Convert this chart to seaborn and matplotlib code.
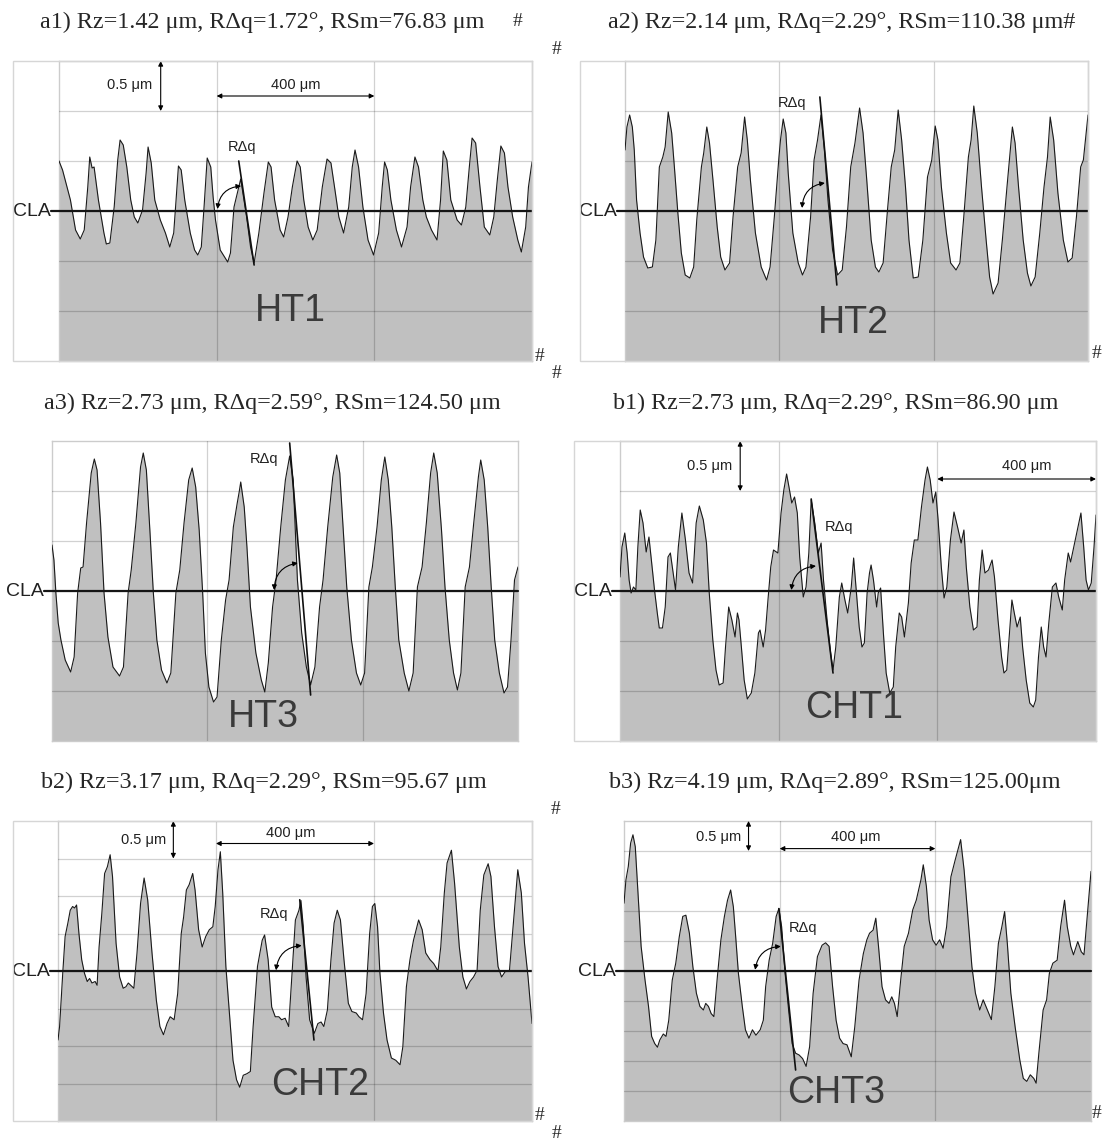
import matplotlib
matplotlib.use("Agg")
import matplotlib.pyplot as plt
import seaborn as sns
import pandas as pd
from matplotlib.patches import Rectangle
from matplotlib.transforms import blended_transform_factory

sns.set_style("white")
plt.rcParams['font.family'] = ['Liberation Sans', 'DejaVu Sans']

# Roughness profiles: (position along trace [µm], height relative to CLA [µm])
HT1 = [(0,0.50),(9,0.41),(29,0.11),(42,-0.19),(54,-0.28),(64,-0.19),(73,0.24),(78,0.54),(84,0.43),(89,0.44),
       (100,0.11),(114,-0.22),(120,-0.33),(129,-0.32),(140,0.04),(149,0.51),(155,0.71),(163,0.66),(172,0.44),
       (182,0.11),(191,-0.06),(200,-0.12),(212,0.01),(221,0.38),(226,0.64),(234,0.48),(243,0.11),(257,-0.09),
       (270,-0.22),(281,-0.36),(291,-0.22),(297,0.11),(303,0.45),(310,0.41),(319,0.11),(333,-0.22),(344,-0.39),
       (352,-0.44),(361,-0.36),(368,0.04),(376,0.53),(385,0.44),(391,0.14),(397,-0.09),(409,-0.39),(428,-0.51),
       (435,-0.42),(444,0.04),(461,0.32),(476,-0.06),(486,-0.36),(495,-0.52),(507,-0.22),(520,0.18),(531,0.49),
       (538,0.44),(547,0.11),(561,-0.19),(570,-0.26),(581,-0.06),(592,0.24),(604,0.50),(612,0.44),(621,0.11),
       (632,-0.16),(644,-0.29),(655,-0.19),(668,0.24),(680,0.52),(690,0.48),(699,0.24),(710,-0.06),(722,-0.22),
       (735,0.04),(744,0.44),(751,0.61),(760,0.44),(771,0.04),(784,-0.29),(798,-0.44),(811,-0.22),(820,0.24),
       (826,0.49),(833,0.41),(842,0.11),(856,-0.19),(869,-0.36),(883,-0.16),(892,0.24),(903,0.54),(912,0.44),
       (923,0.11),(932,-0.06),(945,-0.19),(959,-0.29),(968,0.11),(975,0.60),(984,0.51),(994,0.11),(1010,-0.09),
       (1021,-0.14),(1032,0.04),(1041,0.44),(1048,0.73),(1057,0.68),(1068,0.24),(1079,-0.16),(1093,-0.24),
       (1103,-0.06),(1112,0.31),(1121,0.65),(1130,0.58),(1139,0.24),(1151,-0.06),(1164,-0.29),(1173,-0.41),
       (1184,-0.16),(1191,0.24),(1200,0.49)]

HT2 = [(0,0.61),(5,0.84),(12,0.96),(19,0.84),(24,0.61),(30,0.11),(39,-0.22),(48,-0.46),(59,-0.57),(71,-0.56),
       (80,-0.29),(89,0.44),(98,0.54),(104,0.64),(112,0.99),(121,0.78),(128,0.44),(137,-0.02),(146,-0.42),
       (156,-0.64),(168,-0.67),(178,-0.56),(186,-0.09),(198,0.44),(204,0.58),(212,0.84),(219,0.68),(228,0.31),
       (239,-0.16),(248,-0.46),(259,-0.59),(271,-0.52),(280,-0.06),(292,0.44),(301,0.58),(310,0.94),(317,0.71),
       (325,0.31),(338,-0.22),(353,-0.56),(367,-0.69),(376,-0.56),(387,-0.06),(399,0.54),(403,0.71),(410,0.92),
       (417,0.78),(423,0.38),(435,-0.22),(449,-0.52),(460,-0.64),(469,-0.56),(481,-0.06),(490,0.51),(499,0.71),
       (508,0.96),(517,0.61),(526,0.11),(538,-0.39),(551,-0.64),(563,-0.59),(574,-0.16),(585,0.44),(596,0.68),
       (608,1.03),(617,0.78),(626,0.34),(638,-0.29),(649,-0.56),(658,-0.61),(669,-0.52),(681,0.04),(690,0.44),
       (699,0.61),(708,1.01),(717,0.71),(727,0.24),(736,-0.29),(747,-0.67),(760,-0.66),(772,-0.29),(784,0.34),
       (795,0.51),(804,0.85),(811,0.71),(820,0.24),(833,-0.22),(844,-0.52),(858,-0.59),(868,-0.52),(878,-0.06),
       (890,0.54),(897,0.71),(904,1.05),(913,0.78),(924,0.24),(936,-0.29),(945,-0.66),(954,-0.83),(967,-0.72),
       (978,-0.29),(990,0.24),(997,0.54),(1004,0.84),(1011,0.68),(1020,0.24),(1032,-0.29),(1043,-0.62),
       (1052,-0.75),(1063,-0.66),(1075,-0.22),(1086,0.24),(1095,0.54),(1102,0.94),(1111,0.71),(1122,0.18),
       (1136,-0.29),(1148,-0.51),(1159,-0.47),(1170,-0.06),(1181,0.44),(1188,0.51),(1200,0.96)]

HT3 = [(0,0.46),(5,0.31),(10,-0.02),(16,-0.32),(23,-0.49),(34,-0.69),(48,-0.81),(57,-0.66),(66,-0.02),(74,0.23),
       (80,0.24),(89,0.68),(101,1.18),(109,1.32),(116,1.21),(125,0.68),(134,-0.02),(144,-0.46),(157,-0.76),
       (174,-0.85),(184,-0.76),(196,-0.02),(204,0.21),(216,0.68),(228,1.24),(235,1.38),(243,1.21),(252,0.61),
       (261,-0.02),(270,-0.49),(282,-0.79),(296,-0.92),(306,-0.82),(319,-0.02),(329,0.21),(340,0.68),(352,1.11),
       (361,1.23),(370,1.04),(379,0.61),(388,-0.02),(395,-0.62),(404,-0.96),(416,-1.11),(425,-1.06),(436,-0.49),
       (447,-0.09),(456,0.11),(467,0.64),(477,0.88),(482,0.99),(486,1.09),(495,0.84),(502,0.44),(511,-0.16),
       (525,-0.62),(539,-0.89),(548,-1.01),(557,-0.72),(568,-0.16),(577,0.11),(589,0.64),(601,1.11),(612,1.35),
       (621,1.11),(632,0.11),(643,-0.42),(655,-0.76),(666,-0.94),(677,-0.76),(689,-0.16),(698,0.11),(710,0.64),
       (723,1.14),(733,1.36),(741,1.18),(750,0.61),(759,0.04),(771,-0.49),(784,-0.82),(795,-0.94),(805,-0.82),
       (816,0.04),(825,0.24),(837,0.64),(848,1.11),(857,1.34),(866,1.11),(875,0.64),(884,0.04),(893,-0.49),
       (907,-0.82),(919,-1.00),(930,-0.82),(941,0.04),(953,0.24),(964,0.68),(975,1.18),(983,1.38),(992,1.18),
       (1003,0.61),(1012,0.04),(1023,-0.49),(1034,-0.82),(1044,-0.99),(1053,-0.82),(1064,0.04),(1075,0.24),
       (1086,0.68),(1098,1.14),(1104,1.31),(1113,1.11),(1122,0.64),(1131,0.04),(1140,-0.49),(1152,-0.82),
       (1164,-1.02),(1173,-0.96),(1182,-0.49),(1191,0.11),(1200,0.24)]

CHT1 = [(0,0.14),(5,0.44),(12,0.58),(18,0.38),(23,0.11),(28,-0.02),(34,0.04),(40,0.01),(45,0.44),(51,0.81),
        (58,0.68),(66,0.39),(73,0.54),(80,0.28),(87,0.01),(94,-0.22),(99,-0.37),(107,-0.37),(114,-0.16),
        (121,0.34),(127,0.38),(134,0.18),(140,0.01),(147,0.44),(156,0.78),(165,0.51),(174,0.18),(183,0.08),
        (192,0.68),(200,0.85),(210,0.71),(218,0.48),(225,-0.02),(234,-0.49),(242,-0.79),(250,-0.94),(260,-0.92),
        (266,-0.56),(274,-0.16),(282,-0.29),(290,-0.46),(296,-0.22),(300,-0.29),(306,-0.56),(313,-0.89),
        (321,-1.08),(331,-1.02),(340,-0.82),(349,-0.42),(353,-0.39),(361,-0.56),(367,-0.39),(373,-0.09),
        (380,0.24),(387,0.41),(398,0.38),(406,0.78),(413,1.01),(420,1.17),(426,1.04),(433,0.88),(440,0.94),
        (447,0.78),(453,0.34),(462,-0.06),(469,0.04),(476,0.38),(482,0.91),(491,0.68),(500,0.38),(507,0.48),
        (513,0.11),(522,-0.29),(531,-0.62),(537,-0.79),(544,-0.56),(553,-0.06),(559,0.08),(567,-0.09),
        (574,-0.22),(583,0.04),(589,0.33),(595,0.04),(603,-0.36),(610,-0.56),(616,-0.52),(623,-0.02),(629,0.18),
        (633,0.26),(639,0.11),(647,-0.16),(651,-0.02),(657,0.03),(664,-0.42),(671,-0.82),(680,-1.02),(689,-0.96),
        (695,-0.56),(704,-0.22),(710,-0.26),(717,-0.46),(727,-0.12),(734,0.28),(742,0.51),(751,0.51),(760,0.84),
        (769,1.11),(775,1.24),(782,1.11),(789,0.88),(796,0.99),(802,0.71),(810,0.24),(817,-0.07),(824,0.04),
        (833,0.51),(842,0.79),(851,0.64),(860,0.48),(867,0.61),(873,0.24),(882,-0.16),(891,-0.39),(900,-0.36),
        (906,0.11),(913,0.41),(920,0.18),(929,0.21),(938,0.31),(944,0.14),(953,-0.29),(962,-0.66),(968,-0.82),
        (975,-0.79),(982,-0.42),(988,-0.09),(994,-0.22),(1001,-0.36),(1009,-0.26),(1015,-0.56),(1024,-0.89),
        (1033,-1.12),(1042,-1.16),(1048,-1.09),(1055,-0.66),(1062,-0.36),(1068,-0.56),(1074,-0.66),(1081,-0.32),
        (1090,0.04),(1099,0.08),(1106,-0.06),(1115,-0.19),(1121,0.11),(1130,0.38),(1136,0.29),(1144,0.44),
        (1153,0.61),(1162,0.78),(1169,0.44),(1175,0.11),(1181,0.01),(1188,0.08),(1195,0.44),(1200,0.76)]

CHT2 = [(0,-0.92),(4,-0.74),(12,-0.03),(18,0.46),(25,0.64),(31,0.81),(37,0.86),(42,0.84),(47,0.88),(53,0.50),
        (60,0.15),(67,-0.03),(74,-0.14),(80,-0.10),(86,-0.16),(94,-0.14),(99,-0.19),(104,0.32),(111,0.77),
        (118,1.30),(125,1.39),(132,1.55),(138,1.26),(147,0.37),(156,-0.08),(165,-0.23),(172,-0.21),(178,-0.16),
        (184,-0.19),(192,-0.23),(200,0.24),(209,0.90),(218,1.24),(227,0.95),(238,0.24),(249,-0.39),(258,-0.74),
        (267,-0.85),(276,-0.70),(284,-0.61),(294,-0.65),(303,-0.30),(312,0.50),(318,0.72),(325,1.08),(332,1.15),
        (341,1.30),(347,1.08),(356,0.55),(365,0.32),(374,0.46),(383,0.55),(392,0.59),(398,0.86),(405,1.35),
        (411,1.59),(417,1.04),(425,0.06),(434,-0.56),(443,-1.19),(452,-1.45),(460,-1.55),(469,-1.39),(478,-1.37),
        (487,-1.34),(494,-0.74),(505,0.06),(517,0.41),(523,0.48),(532,0.15),(541,-0.48),(550,-0.61),(559,-0.61),
        (566,-0.65),(575,-0.63),(584,-0.74),(592,-0.08),(601,0.68),(610,0.81),(615,0.94),(621,0.59),(628,-0.08),
        (637,-0.65),(649,-0.83),(658,-0.70),(666,-0.68),(673,-0.74),(682,-0.52),(691,0.15),(699,0.64),(707,0.81),
        (715,0.68),(724,0.15),(735,-0.43),(744,-0.54),(755,-0.56),(762,-0.61),(771,-0.65),(780,-0.30),(789,0.50),
        (796,0.86),(802,0.90),(809,0.59),(815,-0.03),(824,-0.56),(833,-0.92),(844,-1.16),(855,-1.19),(866,-1.25),
        (873,-1.01),(882,-0.21),(891,0.15),(900,0.41),(913,0.68),(922,0.55),(931,0.24),(942,0.15),(951,0.10),
        (962,0.00),(969,0.32),(978,1.04),(985,1.44),(996,1.61),(1004,1.17),(1016,0.32),(1025,-0.08),(1034,-0.24),
        (1043,-0.14),(1052,-0.08),(1061,0.01),(1069,0.81),(1078,1.28),(1089,1.43),(1096,1.26),(1105,0.59),
        (1114,0.06),(1123,-0.08),(1132,-0.01),(1143,0.01),(1155,0.77),(1164,1.35),(1173,1.04),(1181,0.37),
        (1190,-0.08),(1200,-0.70)]

CHT3 = [(0,1.13),(5,1.52),(11,1.74),(17,2.13),(23,2.27),(29,2.07),(35,1.41),(44,0.41),(54,-0.15),(63,-0.59),
        (71,-1.09),(79,-1.21),(86,-1.27),(92,-1.15),(101,-1.05),(108,-1.09),(115,-0.82),(124,-0.15),(133,0.13),
        (142,0.57),(151,0.91),(159,0.93),(168,0.63),(177,0.07),(186,-0.37),(195,-0.59),(204,-0.65),(210,-0.54),
        (217,-0.59),(224,-0.71),(231,-0.76),(240,-0.09),(249,0.52),(258,0.91),(266,1.18),(274,1.35),(281,1.07),
        (287,0.57),(294,-0.04),(304,-0.59),(312,-0.98),(321,-1.12),(330,-0.98),(339,-1.07),(350,-0.98),
        (358,-0.82),(364,-0.26),(373,0.18),(382,0.46),(391,0.91),(398,1.04),(405,0.74),(414,-0.04),(423,-0.65),
        (432,-1.21),(441,-1.37),(450,-1.40),(459,-1.46),(468,-1.59),(477,-1.26),(486,-0.37),(497,0.24),(509,0.43),
        (518,0.47),(527,0.41),(536,-0.26),(545,-0.82),(554,-1.12),(563,-1.21),(573,-1.23),(584,-1.43),(593,-0.93),
        (604,-0.15),(615,0.29),(624,0.52),(631,0.63),(640,0.68),(647,0.88),(654,0.41),(663,-0.26),(672,-0.48),
        (681,-0.54),(688,-0.43),(695,-0.54),(702,-0.76),(711,-0.15),(720,0.41),(731,0.63),(742,1.02),(751,1.18),
        (763,1.52),(769,1.77),(777,1.41),(784,0.85),(793,0.52),(802,0.43),(811,0.52),(820,0.38),(829,0.74),
        (840,1.57),(851,1.85),(865,2.19),(874,1.68),(883,0.96),(894,0.07),(903,-0.37),(914,-0.65),(923,-0.48),
        (930,-0.59),(944,-0.81),(953,-0.26),(962,0.46),(971,0.74),(978,0.99),(985,0.46),(994,-0.37),(1005,-0.93),
        (1017,-1.48),(1026,-1.79),(1035,-1.84),(1044,-1.73),(1053,-1.79),(1059,-1.87),(1066,-1.37),(1077,-0.65),
        (1086,-0.48),(1093,-0.04),(1102,0.13),(1113,0.18),(1122,0.74),(1132,1.18),(1139,0.74),(1148,0.41),
        (1155,0.27),(1166,0.49),(1175,0.32),(1182,0.27),(1188,0.74),(1193,1.13),(1200,1.66)]

TITLES = ["a1) Rz=1.42 μm, RΔq=1.72°, RSm=76.83 μm",
          "a2) Rz=2.14 μm, RΔq=2.29°, RSm=110.38 μm#",
          "a3) Rz=2.73 μm, RΔq=2.59°, RSm=124.50 μm",
          "b1) Rz=2.73 μm, RΔq=2.29°, RSm=86.90 μm",
          "b2) Rz=3.17 μm, RΔq=2.29°, RSm=95.67 μm",
          "b3) Rz=4.19 μm, RΔq=2.89°, RSm=125.00μm"]
SAMPLES = ["HT1", "HT2", "HT3", "CHT1", "CHT2", "CHT3"]
HALF_RANGE = [1.5, 1.5, 1.5, 1.5, 2.0, 2.5]          # µm above/below CLA
TANGENTS = [((456, 0.50), (495, -0.54)), ((505, 1.14), (549, -0.74)), ((612, 1.48), (666, -1.04)),
            ((482, 0.92), (537, -0.82)), ((612, 0.95), (648, -0.92)), ((398, 1.04), (441, -1.65))]
ARCS = [((402, 0.02), (462, 0.25)), ((459, 0.03), (518, 0.28)), ((572, 0.01), (633, 0.28)),
        ((432, 0.01), (494, 0.25)), ((552, 0.01), (617, 0.34)), ((337, 0.02), (403, 0.41))]

W, H = 1104, 1142
fig = plt.figure(figsize=(W / 100, H / 100), dpi=100)

# layout in pixels: plot box (x0, y0, x1, y1), optional outer frame left edge, title anchor
LAYOUT = [
    dict(box=(59, 61, 532, 361), frame=13, title=(40, 22)),
    dict(box=(625, 61, 1088, 361), frame=580, title=(608, 22)),
    dict(box=(52, 441, 518, 741), frame=None, title=(44, 403)),
    dict(box=(620, 441, 1096, 741), frame=574, title=(613, 403)),
    dict(box=(58, 821, 532, 1121), frame=13, title=(41, 782)),
    dict(box=(624, 821, 1091, 1121), frame=None, title=(609, 782)),
]
# annotation placement (data coords)
ANNOT = [
    dict(rdq=(465, 0.64), name=(587, -1.0), vbar=258, hbar=(400, 800, 1.15), vlab=(178, 1.26), hlab=(600, 1.26)),
    dict(rdq=(433, 1.08), name=(593, -1.12)),
    dict(rdq=(545, 1.32), name=(544, -1.26)),
    dict(rdq=(551, 0.64), name=(589, -1.17), vbar=303, hbar=(800, 1200, 1.12), vlab=(225, 1.25), hlab=(1026, 1.25)),
    dict(rdq=(548, 0.76), name=(664, -1.52), vbar=292, hbar=(400, 800, 1.70), vlab=(218, 1.75), hlab=(589, 1.84)),
    dict(rdq=(461, 0.71), name=(545, -2.04), vbar=320, hbar=(400, 800, 2.04), vlab=(242, 2.23), hlab=(595, 2.23)),
]
PROFILES = [HT1, HT2, HT3, CHT1, CHT2, CHT3]

arrow_kw = dict(arrowstyle='<|-|>', color='black', lw=0.8, mutation_scale=7, shrinkA=0, shrinkB=0)

for prof, title, name, lim, tan, arc, lay, ann in zip(PROFILES, TITLES, SAMPLES, HALF_RANGE,
                                                      TANGENTS, ARCS, LAYOUT, ANNOT):
    x0, y0, x1, y1 = lay['box']
    ax = fig.add_axes([x0 / W, 1 - y1 / H, (x1 - x0) / W, (y1 - y0) / H])
    df = pd.DataFrame(prof, columns=['x', 'z'])

    ax.fill_between(df['x'], df['z'], -lim, color='#c0c0c0', lw=0, zorder=1)
    sns.lineplot(data=df, x='x', y='z', ax=ax, color='#1a1a1a', lw=0.8, sort=False,
                 estimator=None, zorder=3)

    ax.set_xlim(0, 1200)
    ax.set_ylim(-lim, lim)
    ax.set_xticks([400, 800])
    yt = [v * 0.5 for v in range(int(-2 * lim) + 1, int(2 * lim))]
    ax.set_yticks(yt)
    ax.grid(True, color='black', alpha=0.18, lw=0.9)
    ax.set_axisbelow(False)
    ax.tick_params(length=0, labelbottom=False, labelleft=False)
    ax.set_xlabel('')
    ax.set_ylabel('')
    for sp in ax.spines.values():
        sp.set_color('#cccccc')
        sp.set_linewidth(1.0)

    # centre line average and its label
    bt = blended_transform_factory(ax.transAxes, ax.transData)
    ax.plot([-0.017, 1.0], [0, 0], transform=bt, color='#151515', lw=1.6, clip_on=False, zorder=5)
    ax.text(-0.018, 0, 'CLA', transform=bt, ha='right', va='center', fontsize=14, color='#202020')

    # mean slope tangent with angle arc
    (tx0, ty0), (tx1, ty1) = tan
    ax.plot([tx0, tx1], [ty0, ty1], color='#101010', lw=1.2, zorder=6, clip_on=False)
    ax.annotate('', xy=arc[1], xytext=arc[0],
                arrowprops=dict(connectionstyle='arc3,rad=-0.4', **arrow_kw), zorder=6)
    ax.text(*ann['rdq'], 'RΔq', ha='center', va='center', fontsize=10.5, color='#202020', zorder=6)

    ax.text(*ann['name'], name, ha='center', va='center', fontsize=27, color='#3a3a3a', zorder=6)

    # scale bars
    if 'vbar' in ann:
        vx = ann['vbar']
        ax.annotate('', xy=(vx, lim - 0.5), xytext=(vx, lim), arrowprops=arrow_kw, zorder=6)
        ax.text(*ann['vlab'], '0.5 μm', ha='center', va='center', fontsize=10.5, color='#202020')
        hx0, hx1, hy = ann['hbar']
        ax.annotate('', xy=(hx1, hy), xytext=(hx0, hy), arrowprops=arrow_kw, zorder=6)
        ax.text(*ann['hlab'], '400 μm', ha='center', va='center', fontsize=10.5, color='#202020')

    if lay['frame'] is not None:
        fl = lay['frame']
        fig.add_artist(Rectangle((fl / W, 1 - y1 / H), (x1 - fl) / W, (y1 - y0) / H,
                                 transform=fig.transFigure, fill=False, ec='#d6d6d6', lw=1.0))

    tx, ty = lay['title']
    fig.text(tx / W, 1 - ty / H, title, ha='left', va='center', fontsize=17.4,
             family=['Liberation Serif', 'DejaVu Serif'])

# stray separator marks
for hx, hy in [(518, 22), (557, 50), (540, 356), (557, 374), (1097, 354),
               (556, 810), (540, 1116), (557, 1134), (1097, 1114)]:
    fig.text(hx / W, 1 - hy / H, '#', ha='center', va='center', fontsize=14,
             family=['Liberation Serif', 'DejaVu Serif'])

fig.savefig('out.png', dpi=100, facecolor='white')
